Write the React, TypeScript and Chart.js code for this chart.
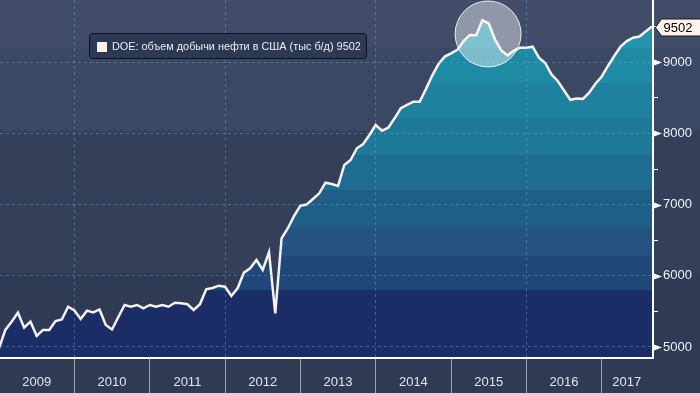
import React, { useEffect, useRef } from 'react';
import { Chart, registerables } from 'chart.js';

Chart.register(...registerables);

// ---------- data ----------
const seriesLabel = 'DOE: объем добычи нефти в США (тыс б/д)';
const yearLabels = ['2009', '2010', '2011', '2012', '2013', '2014', '2015', '2016', '2017'];
// month index (0 = Jan 2009) where each year label sits
const yearLabelMonths = [6, 18, 30, 42, 54, 66, 78, 90, 100];
// month index of each year boundary (separators under the axis)
const yearStartMonths = [12, 24, 36, 48, 60, 72, 84, 96];
// year boundaries that get a dashed grid line in the plot
const gridYearMonths = [12, 36, 60, 84];
const yTickValues = [5000, 5500, 6000, 6500, 7000, 7500, 8000, 8500, 9000, 9500];
const yLabelValues = [5000, 6000, 7000, 8000, 9000];
// monthly production, Jan 2009 .. Sep 2017 (thousand b/d)
const production = [
  4985, 5240, 5355, 5482, 5271, 5355, 5155, 5239, 5239, 5365, 5386, 5566,
  5513, 5393, 5510, 5485, 5527, 5309, 5246, 5421, 5590, 5566, 5590, 5544,
  5590, 5566, 5590, 5566, 5622, 5614, 5600, 5520, 5600, 5811, 5829, 5861,
  5847, 5717, 5825, 6044, 6106, 6222, 6082, 6331, 5473, 6527, 6668, 6841,
  6985, 7002, 7079, 7159, 7308, 7290, 7262, 7557, 7627, 7792, 7852, 7979,
  8119, 8039, 8081, 8213, 8354, 8400, 8446, 8446, 8623, 8813, 8975, 9080,
  9125, 9174, 9297, 9384, 9380, 9590, 9545, 9320, 9166, 9096, 9163, 9205,
  9205, 9219, 9065, 8990, 8829, 8737, 8604, 8473, 8490, 8486, 8574, 8699,
  8800, 8948, 9088, 9219, 9298, 9346, 9362, 9431, 9502,
];
// highlighted peak (circle annotation): month index and value
const highlightMonth = 77.9;
const highlightValue = 9398;

// ---------- styles ----------
const FONT = '"Liberation Sans", Arial, sans-serif';
const DASH_COLOR = 'rgba(110,170,210,0.42)';
const BG_BANDS: [number, number, string][] = [
  [0, 0.134, '#414d68'],
  [0.134, 0.366, '#3b4864'],
  [0.366, 0.763, '#344059'],
  [0.763, 2, '#2f3b55'],
];
const FILL_BANDS: [number, number, string][] = [
  [0, 48, '#2294ad'],
  [48, 83, '#1f8aa4'],
  [83, 118, '#1e819e'],
  [118, 155, '#1e7897'],
  [155, 190, '#1e6c8f'],
  [190, 227, '#1f5e87'],
  [227, 256, '#255381'],
  [256, 290, '#1f4878'],
  [290, 358, '#1b2d66'],
];

const bgPlugin = {
  id: 'bandedBackground',
  beforeDraw(chart: any) {
    const { ctx, width, height, chartArea } = chart;
    const h = chartArea.bottom - chartArea.top;
    ctx.save();
    for (const [a, b, c] of BG_BANDS) {
      const y0 = chartArea.top + a * h;
      const y1 = Math.min(height, chartArea.top + b * h);
      ctx.fillStyle = c;
      ctx.fillRect(0, Math.round(y0), width, Math.round(y1) - Math.round(y0));
    }
    ctx.restore();
  },
};

const overlayPlugin = {
  id: 'overlay',
  afterDraw(chart: any) {
    const { ctx, chartArea, scales } = chart;
    const ys = scales.y;
    const xs = scales.x;
    ctx.save();

    // highlight circle
    const cx = xs.getPixelForValue(highlightMonth);
    const cy = ys.getPixelForValue(highlightValue);
    ctx.beginPath();
    ctx.arc(cx, cy, 33, 0, Math.PI * 2);
    ctx.fillStyle = 'rgba(255,255,255,0.42)';
    ctx.fill();
    ctx.lineWidth = 1;
    ctx.strokeStyle = 'rgba(255,255,255,0.85)';
    ctx.stroke();

    // triangles at major y ticks
    ctx.fillStyle = '#ffffff';
    for (const v of yLabelValues) {
      const py = Math.round(ys.getPixelForValue(v)) + 0.5;
      ctx.beginPath();
      ctx.moveTo(chartArea.right + 1, py - 3);
      ctx.lineTo(chartArea.right + 9, py);
      ctx.lineTo(chartArea.right + 1, py + 3);
      ctx.closePath();
      ctx.fill();
    }

    // last value tag
    const last = production[production.length - 1];
    const ty = Math.round(ys.getPixelForValue(last)) + 0.5;
    const tx = chartArea.right + 2.5;
    ctx.beginPath();
    ctx.moveTo(tx, ty);
    ctx.lineTo(tx + 6, ty - 8.5);
    ctx.lineTo(chart.width + 2, ty - 8.5);
    ctx.lineTo(chart.width + 2, ty + 8.5);
    ctx.lineTo(tx + 6, ty + 8.5);
    ctx.closePath();
    ctx.fillStyle = '#fff3ec';
    ctx.fill();
    ctx.strokeStyle = '#1b1b22';
    ctx.lineWidth = 1;
    ctx.stroke();
    ctx.fillStyle = '#000000';
    ctx.font = `13px ${FONT}`;
    ctx.textAlign = 'left';
    ctx.textBaseline = 'middle';
    ctx.fillText(String(last), tx + 8, ty + 1);

    // legend box
    const lx = 89.5, lyy = 33.5, lw = 277, lh = 25;
    ctx.beginPath();
    ctx.roundRect(lx, lyy, lw, lh, 3);
    ctx.fillStyle = '#2d3954';
    ctx.fill();
    ctx.strokeStyle = '#0c111c';
    ctx.lineWidth = 1;
    ctx.stroke();
    ctx.fillStyle = '#fff0ea';
    ctx.fillRect(97, 42, 10, 10);
    const text = `${chart.data.datasets[0].label} ${last}`;
    ctx.font = `12px ${FONT}`;
    const w = ctx.measureText(text).width;
    const size = Math.max(9, Math.min(13, 12 * 249 / w));
    ctx.font = `${size}px ${FONT}`;
    ctx.fillStyle = '#e9edf4';
    ctx.textBaseline = 'middle';
    ctx.fillText(text, 112, 47);

    ctx.restore();
  },
};

export default function App() {
  const ref = useRef<HTMLCanvasElement | null>(null);

  useEffect(() => {
    if (!ref.current) return;
    const chart = new Chart(ref.current, {
      type: 'line',
      data: {
        datasets: [
          {
            label: seriesLabel,
            data: production.map((v, i) => ({ x: i, y: v })),
            borderColor: '#f6f1ec',
            borderWidth: 2.5,
            pointRadius: 0,
            tension: 0,
            fill: 'start',
            backgroundColor: (c: any) => {
              const chart = c.chart;
              const area = chart.chartArea;
              if (!area) return 'transparent';
              const h = area.bottom - area.top;
              const g = chart.ctx.createLinearGradient(0, area.top, 0, area.bottom);
              for (const [a, b, col] of FILL_BANDS) {
                g.addColorStop(Math.min(1, a / 358), col);
                g.addColorStop(Math.min(1, b / 358), col);
              }
              return g;
            },
          },
        ],
      },
      options: {
        animation: false,
        responsive: false,
        maintainAspectRatio: false,
        layout: { padding: 0 },
        plugins: {
          legend: { display: false },
          tooltip: { enabled: false },
        },
        scales: {
          x: {
            type: 'linear',
            position: 'bottom',
            min: 0.15,
            max: 104.17,
            afterBuildTicks: (s: any) => {
              s.ticks = [...yearStartMonths, ...yearLabelMonths]
                .sort((a, b) => a - b)
                .map((v) => ({ value: v }));
            },
            afterFit: (s: any) => {
              s.height = 35;
              s.paddingLeft = 0;
              s.paddingRight = 0;
              s.paddingTop = 0;
              s.paddingBottom = 0;
            },
            ticks: {
              autoSkip: false,
              maxRotation: 0,
              minRotation: 0,
              padding: -18,
              color: '#dfe6ef',
              font: { family: FONT, size: 13 },
              callback: (v: any) => {
                const i = yearLabelMonths.indexOf(Number(v));
                return i >= 0 ? yearLabels[i] : '';
              },
            },
            grid: {
              z: 1,
              lineWidth: 1,
              tickLength: 35,
              tickWidth: 1,
              color: (c: any) =>
                c.tick && gridYearMonths.includes(c.tick.value) ? DASH_COLOR : 'rgba(0,0,0,0)',
              tickColor: (c: any) =>
                c.tick && yearStartMonths.includes(c.tick.value) ? '#9aa3b3' : 'rgba(0,0,0,0)',
            },
            border: { color: '#ffffff', width: 2, dash: [3, 3], z: 2 },
          },
          y: {
            type: 'linear',
            position: 'right',
            min: 4845,
            max: 9875,
            afterBuildTicks: (s: any) => {
              s.ticks = yTickValues.map((v) => ({ value: v }));
            },
            afterFit: (s: any) => {
              s.width = 47;
              s.paddingLeft = 0;
              s.paddingRight = 0;
              s.paddingTop = 0;
              s.paddingBottom = 0;
            },
            ticks: {
              padding: 5,
              color: '#eef2f8',
              font: { family: FONT, size: 13 },
              callback: (v: any) => (yLabelValues.includes(Number(v)) ? String(v) : ''),
            },
            grid: {
              z: 1,
              lineWidth: 1,
              tickLength: 5,
              tickWidth: 1,
              color: (c: any) =>
                c.tick && yLabelValues.includes(c.tick.value) ? DASH_COLOR : 'rgba(0,0,0,0)',
              tickColor: '#ffffff',
            },
            border: { color: '#ffffff', width: 2, dash: [3, 3], z: 2 },
          },
        },
      },
      plugins: [bgPlugin, overlayPlugin],
    } as any);
    return () => chart.destroy();
  }, []);

  return (
    <div style={{ position: 'absolute', left: 0, top: 0, width: 700, height: 393 }}>
      <canvas ref={ref} width={700} height={393} style={{ display: 'block', width: 700, height: 393 }} />
    </div>
  );
}
